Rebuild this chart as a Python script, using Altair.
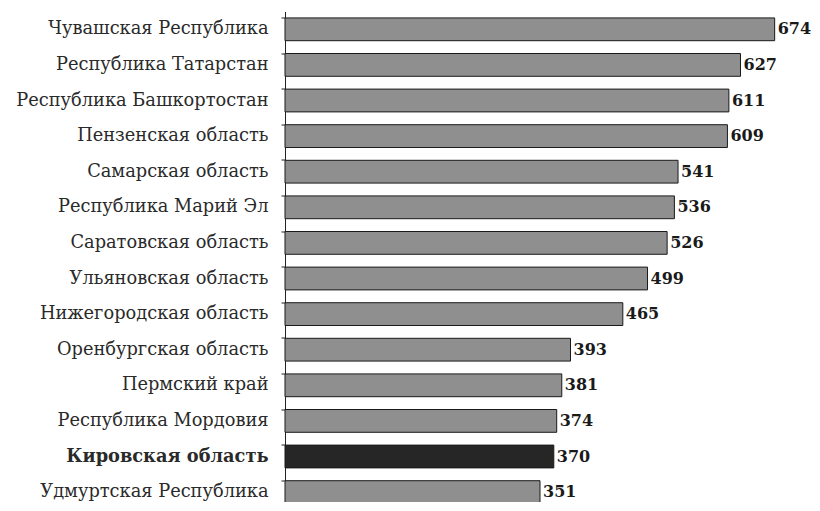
import altair as alt
import pandas as pd

regions = ["Чувашская Республика", "Республика Татарстан", "Республика Башкортостан",
           "Пензенская область", "Самарская область", "Республика Марий Эл",
           "Саратовская область", "Ульяновская область", "Нижегородская область",
           "Оренбургская область", "Пермский край", "Республика Мордовия",
           "Кировская область", "Удмуртская Республика"]
values = [674, 627, 611, 609, 541, 536, 526, 499, 465, 393, 381, 374, 370, 351]
highlight = "Кировская область"

df = pd.DataFrame({"region": regions, "value": values})
df["hl"] = df["region"] == highlight

y = alt.Y("region:N", sort=regions, title=None,
          scale=alt.Scale(paddingInner=0.36, paddingOuter=0.18),
          axis=alt.Axis(bandPosition=0, tickSize=4, tickColor="#222", domainColor="#222",
                        labelFont="DejaVu Serif", labelFontSize=17.8, labelColor="#2a2a2a",
                        labelPadding=13, labelLimit=400,
                        labelFontWeight=alt.condition(f"datum.value == '{highlight}'",
                                                      alt.value("bold"), alt.value("normal"))))
x = alt.X("value:Q", title=None, scale=alt.Scale(domain=[0, 702], nice=False),
          axis=None)

bars = alt.Chart(df).mark_bar(stroke="#1a1a1a", strokeWidth=1).encode(
    y=y, x=x,
    color=alt.condition("datum.hl", alt.value("#262626"), alt.value("#8f8f8f")))
labels = alt.Chart(df).mark_text(align="left", baseline="middle", dx=3,
                                 font="DejaVu Serif", fontWeight="bold", fontSize=16,
                                 color="#1a1a1a").encode(
    y=alt.Y("region:N", sort=regions), x="value:Q", text="value:Q")

chart = (bars + labels).properties(
    width=510, height=498.4,
    autosize=alt.AutoSizeParams(type="none"),
    padding={"left": 277, "top": 3.5, "right": 17, "bottom": -7.9},
).configure_view(stroke=None)

chart.save("out.html", embed_options={"renderer": "svg", "actions": False})
